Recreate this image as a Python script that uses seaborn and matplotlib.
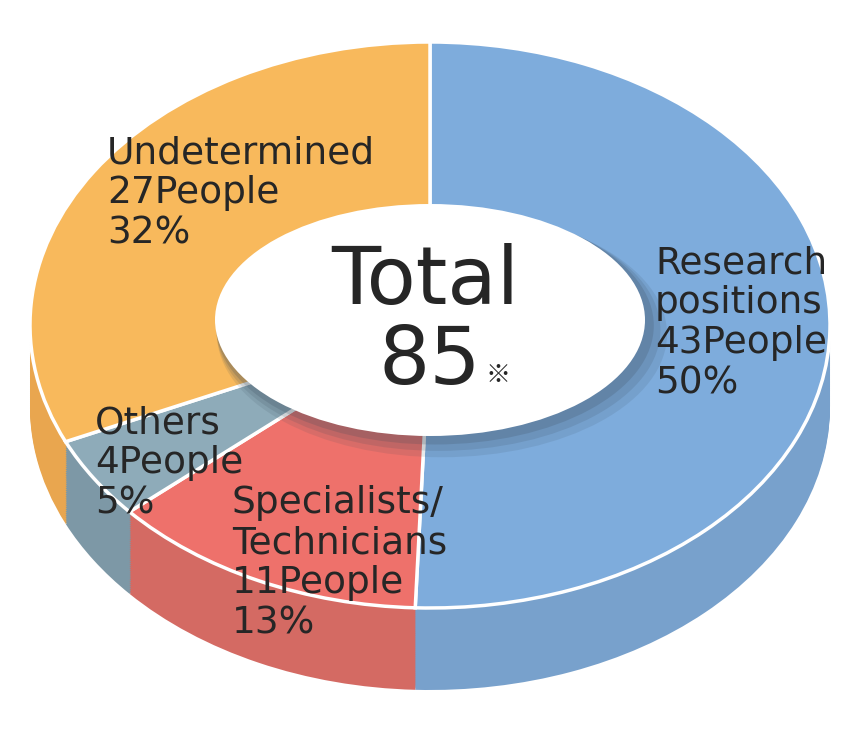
import matplotlib.pyplot as plt
import numpy as np
import seaborn as sns
from matplotlib.patches import Ellipse

sns.set_theme(style="white")
plt.rcParams["font.family"] = ["Liberation Sans Narrow", "DejaVu Sans"]

categories = ["Research\npositions", "Specialists/\nTechnicians", "Others", "Undetermined"]
people = [43, 11, 4, 27]
percents = [50, 13, 5, 32]
top_colors = ["#7eacdc", "#ee716b", "#8eabb9", "#f8b95c"]
side_colors = ["#78a1cc", "#d46a63", "#7d98a6", "#e9a64f"]
total = 85

W, H = 860, 732
cx, cy, rx, ry, depth = 430, 325, 400, 283, 82


def to_data(x, y):
    # pixel position -> data units (pie unit circle stretched to ellipse)
    return (x - cx) / rx, (cy - y) / ry


fig = plt.figure(figsize=(W / 100, H / 100), dpi=100)
ax = fig.add_axes([0, 0, 1, 1])

# extruded side: stacked pies from the bottom up
for d in np.linspace(depth / ry, 0, 40)[:-1]:
    ax.pie(people, colors=side_colors, startangle=90, counterclock=False,
           center=(0, -d), radius=1, wedgeprops=dict(linewidth=0))
# top face
ax.pie(people, colors=top_colors, startangle=90, counterclock=False,
       center=(0, 0), radius=1,
       wedgeprops=dict(edgecolor="white", linewidth=2.5))

ax.set_aspect("auto")
ax.set_xlim(-cx / rx, (W - cx) / rx)
ax.set_ylim((cy - H) / ry, cy / ry)
ax.axis("off")

# centre hole with shadow
hx, hy = to_data(430, 320)
for off, a in [(0.05, 0.12), (0.035, 0.15), (0.02, 0.2)]:
    ax.add_patch(Ellipse((hx + off * 0.6, hy - off), 430 / rx + off, 232 / ry + off,
                         color="#3a4a5a", alpha=a, lw=0, zorder=5))
ax.add_patch(Ellipse((hx, hy), 430 / rx, 232 / ry, color="white", lw=0, zorder=6))

ax.text(*to_data(425, 282), "Total", fontsize=58, ha="center", va="center", zorder=7)
ax.text(*to_data(430, 362), str(total), fontsize=58, ha="center", va="center", zorder=7)
ax.text(*to_data(498, 375), "※", fontsize=18, ha="center", va="center", zorder=7,
        family=["Noto Sans CJK JP", "DejaVu Sans"])

label_pos = [(655, 245), (232, 485), (95, 405), (107, 135)]
for cat, n, p, (x, y) in zip(categories, people, percents, label_pos):
    ax.text(*to_data(x, y), f"{cat}\n{n}People\n{p}%", fontsize=27,
            ha="left", va="top", linespacing=1.15, zorder=7)

fig.savefig("out.png", dpi=100)
